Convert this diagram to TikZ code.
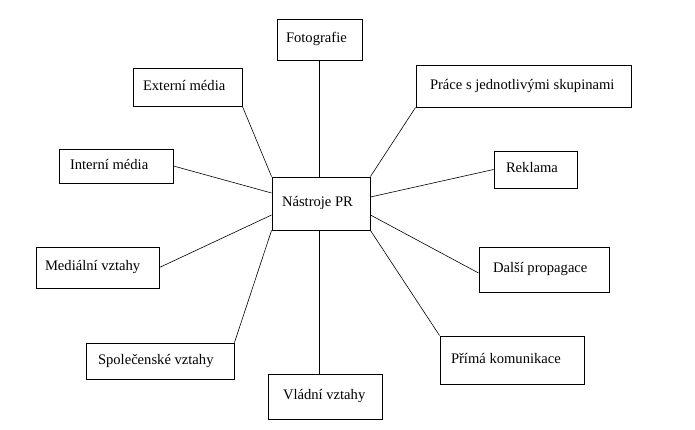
\documentclass[tikz,border=0pt]{standalone}
\usepackage{fontspec}
\setmainfont{Liberation Serif}
\newcommand\bxtext[3]{\makebox[#2pt][l]{\hspace*{#1pt}#3}}
\tikzset{
  box/.style={draw, line width=0.9pt, inner sep=0pt, text height=10pt, text depth=3.5pt,
    font=\fontsize{14.6}{17}\selectfont},
  link/.style={line width=0.6pt}
}
\begin{document}
\begin{tikzpicture}[x=1pt,y=-1pt]
\useasboundingbox[fill=white] (0,0) rectangle (695,430);
\node[box, minimum height=53pt]   (c)     at (321,203.5)  {\bxtext{10}{98}{Nástroje PR}};
\node[box, minimum height=40.5pt] (foto)  at (319.5,39.75){\bxtext{9}{85}{Fotografie}};
\node[box, minimum height=38pt]   (ext)   at (187.5,87)   {\bxtext{10}{109}{Externí média}};
\node[box, minimum height=34pt]   (int)   at (116,166)    {\bxtext{11}{114}{Interní média}};
\node[box, minimum height=41pt]   (med)   at (97.5,267.5) {\bxtext{9}{123}{Mediální vztahy}};
\node[box, minimum height=36pt]   (spol)  at (160,361)    {\bxtext{12}{148}{Společenské vztahy}};
\node[box, minimum height=45pt]   (vlad)  at (325,396.5)  {\bxtext{15}{114}{Vládní vztahy}};
\node[box, minimum height=48pt]   (prima) at (512,360)    {\bxtext{11}{144}{Přímá komunikace}};
\node[box, minimum height=45pt]   (dalsi) at (544,269.5)  {\bxtext{14}{130}{Další propagace}};
\node[box, minimum height=37pt]   (rekl)  at (535.5,169.5){\bxtext{12}{83}{Reklama}};
\node[box, minimum height=42pt]   (prace) at (523.5,86)   {\bxtext{14}{215}{Práce s jednotlivými skupinami}};
\draw[link] (foto.south) -- (foto.south |- c.north);
\draw[link] (ext.south east) -- (c.north west);
\draw[link] (int.east) -- ([yshift=10.5pt]c.west);
\draw[link] (med.east) -- ([yshift=-11.5pt]c.west);
\draw[link] (spol.north east) -- (c.south west);
\draw[link] (c.south -| foto.south) -- (vlad.north -| foto.south);
\draw[link] (prima.north west) -- (c.south east);
\draw[link] ([yshift=-3.5pt]dalsi.west) -- ([yshift=-11.5pt]c.east);
\draw[link] (rekl.west) -- ([yshift=6.5pt]c.east);
\draw[link] (prace.south west) -- (c.north east);
\end{tikzpicture}
\end{document}
